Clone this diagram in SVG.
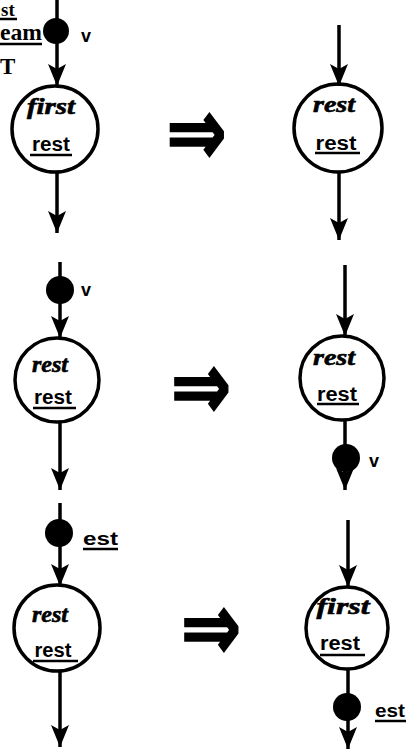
<svg xmlns="http://www.w3.org/2000/svg" width="406" height="751" viewBox="0 0 406 751">
<defs>
<marker id="ah" viewBox="0 0 22 20" refX="22" refY="10" markerWidth="22" markerHeight="20" markerUnits="userSpaceOnUse" orient="auto">
<path d="M0,1 L22,10 L0,19 L5,10 Z" fill="#000"/>
</marker>
<style>
.node{fill:none;stroke:#000;stroke-width:3.5}
.dot{fill:#000;stroke:none}
.edge{stroke:#000;stroke-width:3.5;fill:none}
.it{font-family:"Liberation Serif",serif;font-style:italic;font-weight:bold;font-size:23px;text-anchor:middle;fill:#000;stroke:#000;stroke-width:0.6}
.ul{font-family:"Liberation Sans",sans-serif;font-weight:bold;font-size:20px;text-anchor:middle;fill:#000}
.lab{font-family:"Liberation Sans",sans-serif;font-weight:bold;font-size:18px;fill:#000}
.ser{font-family:"Liberation Serif",serif;font-weight:bold;font-size:23px;fill:#000}
.uline{stroke:#000;stroke-width:2.5}
.imp{font-family:"DejaVu Sans",sans-serif;font-weight:bold;font-size:64px;text-anchor:middle;fill:#000;stroke:#000;stroke-width:1.2}
</style>
</defs>

<g id="connectors">
<line class="edge" x1="57" y1="0" x2="57" y2="86" marker-end="url(#ah)"/>
<line class="edge" x1="57" y1="172" x2="57" y2="233" marker-end="url(#ah)"/>
<line class="edge" x1="339" y1="25" x2="339" y2="86" marker-end="url(#ah)"/>
<line class="edge" x1="339" y1="172" x2="339" y2="240" marker-end="url(#ah)"/>
<line class="edge" x1="60" y1="262" x2="60" y2="338" marker-end="url(#ah)"/>
<line class="edge" x1="60" y1="422" x2="60" y2="490" marker-end="url(#ah)"/>
<line class="edge" x1="345" y1="265" x2="345" y2="336" marker-end="url(#ah)"/>
<line class="edge" x1="345" y1="420" x2="345" y2="490" marker-end="url(#ah)"/>
<line class="edge" x1="60" y1="503" x2="60" y2="586" marker-end="url(#ah)"/>
<line class="edge" x1="60" y1="671" x2="60" y2="747" marker-end="url(#ah)"/>
<line class="edge" x1="348" y1="520" x2="348" y2="587" marker-end="url(#ah)"/>
<line class="edge" x1="348" y1="669" x2="348" y2="749" marker-end="url(#ah)"/>
</g>

<g id="tokens">
<circle class="dot" cx="56" cy="31" r="13"/>
<circle class="dot" cx="60" cy="290" r="14"/>
<circle class="dot" cx="346" cy="458" r="14"/>
<circle class="dot" cx="59" cy="533" r="14"/>
<circle class="dot" cx="347" cy="707" r="14"/>
</g>

<g id="context-labels">
<text class="ser" x="1" y="16" style="font-size:19px">st</text>
<line class="uline" x1="0" y1="19" x2="17" y2="19"/>
<text class="ser" x="0" y="40" textLength="42" lengthAdjust="spacingAndGlyphs">eam</text>
<line class="uline" x1="0" y1="44" x2="42" y2="44"/>
<text class="ser" x="0" y="74">T</text>
<text class="lab" x="81" y="42">v</text>
<text class="lab" x="81" y="296">v</text>
<text class="lab" x="369" y="467">v</text>
<text class="lab" x="83" y="545" textLength="35" lengthAdjust="spacingAndGlyphs">est</text>
<line class="uline" x1="83" y1="549" x2="118" y2="549"/>
<text class="lab" x="375" y="717" textLength="30" lengthAdjust="spacingAndGlyphs">est</text>
<line class="uline" x1="375" y1="721" x2="406" y2="721"/>
</g>

<g id="node-L1">
<circle class="node" cx="55" cy="129" r="43"/>
<text class="it" x="51" y="114" textLength="48" lengthAdjust="spacingAndGlyphs">first</text>
<text class="ul" x="51" y="151" textLength="38" lengthAdjust="spacingAndGlyphs">rest</text>
<line class="uline" x1="30" y1="155" x2="72" y2="155"/>
</g>
<g id="node-R1">
<circle class="node" cx="338" cy="128" r="44"/>
<text class="it" x="334" y="112" textLength="42" lengthAdjust="spacingAndGlyphs">rest</text>
<text class="ul" x="336" y="150" textLength="41" lengthAdjust="spacingAndGlyphs">rest</text>
<line class="uline" x1="315" y1="153" x2="360" y2="153"/>
</g>
<g id="node-L2">
<circle class="node" cx="57" cy="380" r="42"/>
<text class="it" x="50" y="372" textLength="36" lengthAdjust="spacingAndGlyphs">rest</text>
<text class="ul" x="53" y="404" textLength="38" lengthAdjust="spacingAndGlyphs">rest</text>
<line class="uline" x1="33" y1="408" x2="76" y2="408"/>
</g>
<g id="node-R2">
<circle class="node" cx="342" cy="378" r="42"/>
<text class="it" x="334" y="365" textLength="42" lengthAdjust="spacingAndGlyphs">rest</text>
<text class="ul" x="337" y="401" textLength="40" lengthAdjust="spacingAndGlyphs">rest</text>
<line class="uline" x1="317" y1="404" x2="359" y2="404"/>
</g>
<g id="node-L3">
<circle class="node" cx="57" cy="628" r="43"/>
<text class="it" x="50" y="622" textLength="36" lengthAdjust="spacingAndGlyphs">rest</text>
<text class="ul" x="53" y="657" textLength="37" lengthAdjust="spacingAndGlyphs">rest</text>
<line class="uline" x1="33" y1="661" x2="78" y2="661"/>
</g>
<g id="node-R3">
<circle class="node" cx="347" cy="628" r="41"/>
<text class="it" x="343" y="614" textLength="53" lengthAdjust="spacingAndGlyphs">first</text>
<text class="ul" x="340" y="650" textLength="40" lengthAdjust="spacingAndGlyphs">rest</text>
<line class="uline" x1="320" y1="655" x2="365" y2="655"/>
</g>

<g id="implies">
<g transform="translate(196.5,136.5) scale(1.13,1.5)"><text class="imp" x="0" y="19">⇒</text></g>
<g transform="translate(201,390) scale(1.13,1.5)"><text class="imp" x="0" y="19">⇒</text></g>
<g transform="translate(211,631) scale(1.13,1.5)"><text class="imp" x="0" y="19">⇒</text></g>
</g>
</svg>
